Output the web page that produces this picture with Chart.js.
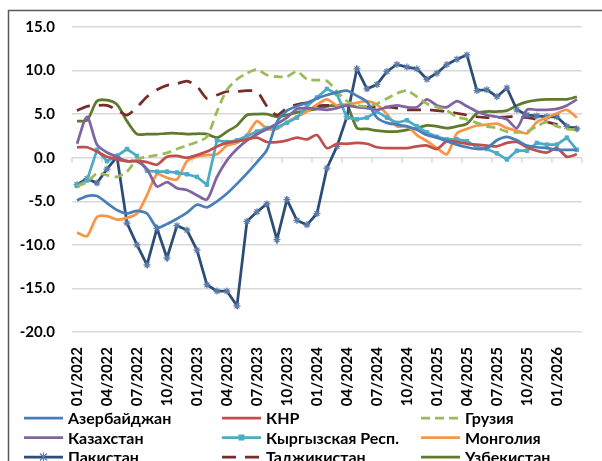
<!DOCTYPE html>
<html>
<head>
<meta charset="utf-8">
<script src="https://cdn.jsdelivr.net/npm/chart.js@4"></script>
<style>
  body { margin: 0; background: #fff; }
  canvas { display: block; }
</style>
</head>
<body>
<canvas id="chart" width="602" height="461"></canvas>
<script>
let months = ['01/2022', '02/2022', '03/2022', '04/2022', '05/2022', '06/2022', '07/2022', '08/2022', '09/2022', '10/2022', '11/2022', '12/2022',
    '01/2023', '02/2023', '03/2023', '04/2023', '05/2023', '06/2023', '07/2023', '08/2023', '09/2023', '10/2023', '11/2023', '12/2023',
    '01/2024', '02/2024', '03/2024', '04/2024', '05/2024', '06/2024', '07/2024', '08/2024', '09/2024', '10/2024', '11/2024', '12/2024',
    '01/2025', '02/2025', '03/2025', '04/2025', '05/2025', '06/2025', '07/2025', '08/2025', '09/2025', '10/2025', '11/2025', '12/2025',
    '01/2026', '02/2026', '03/2026']

let azerbaijan = [-4.9, -4.4, -4.4, -5.2, -6.0, -6.4, -6.1, -6.4, -8.0, -7.6, -7.0, -6.3, -5.4, -5.7, -5.0, -4.1, -3.0, -1.8, -0.5, 0.9,
    4.1, 5.4, 5.9, 6.3, 6.8, 7.2, 7.5, 7.7, 7.1, 6.4, 4.6, 4.0, 3.8, 3.6, 3.2, 2.6, 2.3, 1.9, 1.5, 1.2,
    1.0, 1.1, 2.0, 2.4, 2.0, 1.4, 1.2, 1.1, 0.9, 0.9, 0.9]
let china = [1.2, 1.2, 0.7, 0.1, -0.2, -0.4, -0.4, -0.5, -0.8, 0.1, 0.2, 0.0, 0.3, 0.7, 1.3, 1.7, 1.9, 2.1, 2.3, 1.8,
    1.8, 2.0, 2.3, 2.1, 2.6, 1.1, 1.6, 1.6, 1.7, 1.6, 1.2, 1.1, 1.1, 1.1, 1.3, 1.4, 1.0, 1.9, 1.8, 1.6,
    1.5, 1.4, 1.3, 1.7, 1.8, 1.2, 0.8, 0.6, 1.1, 0.1, 0.4]
let georgia = [-3.3, -2.8, -1.8, -2.0, -2.2, -1.6, -0.2, 0.1, 0.3, 0.55, 1.0, 1.4, 1.8, 2.4, 5.3, 7.8, 9.0, 9.7, 10.1, 9.5,
    9.3, 9.3, 9.9, 9.0, 8.9, 8.8, 7.6, 6.5, 6.0, 5.9, 6.2, 6.8, 7.4, 7.7, 7.0, 6.2, 5.8, 5.4, 4.7, 4.4,
    4.0, 3.6, 3.4, 3.0, 2.9, 3.0, 3.6, 4.1, 3.6, 3.3, 3.2]
let kazakhstan = [1.6, 4.7, 1.5, 0.6, 0.1, -0.4, -0.4, -1.3, -3.3, -2.8, -3.5, -3.7, -4.3, -4.8, -2.2, -0.3, 1.0, 2.0, 2.7, 3.3,
    3.9, 4.6, 5.6, 5.7, 5.6, 5.5, 5.7, 6.0, 5.8, 5.7, 5.5, 5.8, 6.0, 5.8, 5.8, 6.7, 6.0, 5.8, 6.5, 5.9,
    5.3, 4.9, 4.7, 4.4, 3.4, 5.5, 5.5, 5.5, 5.6, 6.0, 6.7]
let kyrgyzstan = [-3.2, -2.6, 0.9, -0.4, 0.2, 1.0, 0.2, -1.5, -1.6, -1.6, -1.7, -1.9, -2.2, -3.1, 2.0, 1.8, 2.0, 2.5, 3.0, 3.4,
    3.5, 4.0, 4.6, 5.9, 6.9, 7.9, 7.3, 4.6, 4.4, 4.6, 5.3, 4.6, 4.0, 4.3, 3.6, 2.9, 2.4, 2.1, 2.1, 1.9,
    1.2, 1.0, 0.5, -0.2, 0.8, 0.8, 1.7, 1.5, 1.5, 2.3, 0.9]
let mongolia = [-8.6, -9.0, -6.8, -6.7, -7.1, -6.9, -6.4, -4.3, -1.9, -2.3, -2.5, -0.4, 0.15, 0.3, 0.4, 1.4, 1.7, 2.6, 4.2, 3.3,
    3.3, 4.1, 4.7, 5.3, 6.1, 6.7, 6.0, 6.1, 6.3, 6.5, 6.1, 5.0, 3.6, 3.6, 2.6, 1.9, 1.1, 0.4, 2.8, 3.3,
    3.7, 3.8, 3.9, 3.4, 3.1, 2.8, 4.1, 4.6, 5.1, 5.5, 4.6]
let pakistan = [-3.1, -2.4, -2.9, -1.3, 0.1, -7.5, -10.0, -12.3, -8.1, -11.5, -7.8, -8.3, -10.6, -14.6, -15.3, -15.3, -17.0, -7.3, -6.2, -5.3,
    -9.4, -4.8, -7.2, -7.7, -6.4, -1.2, 1.3, 4.7, 10.2, 7.9, 8.4, 9.9, 10.7, 10.4, 10.2, 9.0, 9.7, 10.7, 11.3, 11.8,
    7.7, 7.8, 7.0, 8.0, 5.5, 4.9, 4.8, 4.7, 4.7, 3.6, 3.3]
let tajikistan = [5.4, 5.9, 6.0, 6.0, 5.5, 4.9, 5.8, 7.0, 7.8, 8.3, 8.5, 8.8, 8.2, 6.8, 7.2, 7.6, 7.6, 7.7, 7.6, 5.9,
    4.9, 5.7, 6.1, 6.3, 6.0, 6.0, 6.0, 6.0, 5.9, 5.8, 5.8, 5.8, 5.7, 5.5, 5.5, 5.5, 5.4, 5.3, 5.1, 4.9,
    4.7, 4.6, 4.6, 4.7, 4.7, 4.6, 4.4, 4.1, 3.8, 3.4, 3.5]
let uzbekistan = [4.2, 4.3, 6.5, 6.6, 6.1, 4.2, 2.7, 2.7, 2.7, 2.8, 2.8, 2.7, 2.75, 2.7, 2.3, 3.0, 3.7, 4.9, 5.0, 5.0,
    4.7, 4.9, 5.2, 5.4, 5.6, 5.9, 6.0, 6.0, 3.4, 3.3, 3.1, 3.0, 3.0, 3.2, 3.4, 3.7, 3.6, 3.4, 3.6, 3.9,
    5.1, 5.3, 5.3, 5.4, 6.0, 6.4, 6.6, 6.7, 6.7, 6.7, 7.0]

let yTicks = [15, 10, 5, 0, -5, -10, -15, -20]

const FONT = 'Lato, "Open Sans", sans-serif'

function series(label, data, color, extra) {
    return Object.assign({
        label: label,
        data: data,
        borderColor: color,
        backgroundColor: color,
        borderWidth: 2.75,
        pointRadius: 0,
        tension: 0.25,
        fill: false
    }, extra || {})
}

let datasets = [
    series('Азербайджан', azerbaijan, '#4a7ebb'),
    series('КНР', china, '#c0504d'),
    series('Грузия', georgia, '#9bbb59', {borderDash: [9, 5]}),
    series('Казахстан', kazakhstan, '#8064a2'),
    series('Кыргызская Респ.', kyrgyzstan, '#4bacc6', {pointStyle: 'rect', pointRadius: 2.5, pointBorderWidth: 1, tension: 0}),
    series('Монголия', mongolia, '#f79646'),
    series('Пакистан', pakistan, '#2c4d75', {pointStyle: 'star', pointRadius: 3.5, pointBorderWidth: 1.2, pointBorderColor: '#5b7aa8', tension: 0}),
    series('Таджикистан', tajikistan, '#772c2a', {borderDash: [14, 9]}),
    series('Узбекистан', uzbekistan, '#5f7a2d')
]

// frame, zero-line tick marks and the three-column legend
let extras = {
    id: 'extras',
    beforeDraw(chart) {
        let c = chart.ctx
        c.save()
        c.fillStyle = '#fff'
        c.fillRect(0, 0, chart.width, chart.height)
        c.strokeStyle = '#5a5a5a'
        c.lineWidth = 1.5
        c.strokeRect(8.5, 10.5, 700, 600)
        c.restore()
    },
    beforeDatasetsDraw(chart) {
        let c = chart.ctx
        let xs = chart.scales.x
        let y0 = chart.scales.y.getPixelForValue(0)
        let step = xs.getPixelForValue(1) - xs.getPixelForValue(0)
        c.save()
        c.strokeStyle = '#d9d9d9'
        c.lineWidth = 1.5
        c.beginPath()
        for (let i = 0; i <= months.length; i += 3) {
            let x = xs.getPixelForValue(0) - step / 2 + i * step
            c.moveTo(x, y0)
            c.lineTo(x, y0 + 5)
        }
        c.stroke()
        c.restore()
    },
    afterDraw(chart) {
        let c = chart.ctx
        let colX = [24, 222, 421]
        let rowY = [418, 437.5, 457]
        c.save()
        chart.data.datasets.forEach((ds, i) => {
            let x = colX[i % 3]
            let y = rowY[Math.floor(i / 3)]
            c.strokeStyle = ds.borderColor
            c.lineWidth = 2.75
            c.setLineDash(ds.borderDash || [])
            c.beginPath()
            c.moveTo(x, y)
            c.lineTo(x + 39, y)
            c.stroke()
            c.setLineDash([])
            if (ds.pointStyle === 'rect') {
                c.fillStyle = ds.borderColor
                c.fillRect(x + 16.5, y - 3, 6, 6)
            } else if (ds.pointStyle === 'star') {
                c.strokeStyle = ds.pointBorderColor
                c.lineWidth = 1.2
                c.beginPath()
                c.moveTo(x + 16, y - 3.5); c.lineTo(x + 23, y + 3.5)
                c.moveTo(x + 23, y - 3.5); c.lineTo(x + 16, y + 3.5)
                c.moveTo(x + 19.5, y - 4.5); c.lineTo(x + 19.5, y + 4.5)
                c.stroke()
            }
            c.fillStyle = '#000'
            c.font = 'bold 16px ' + FONT
            c.textBaseline = 'middle'
            c.textAlign = 'left'
            c.fillText(ds.label, x + 44, y + 1)
        })
        c.restore()
    }
}

let chart = new Chart(document.querySelector('#chart'), {
    type: 'line',
    data: {labels: months, datasets: datasets},
    options: {
        responsive: false,
        animation: false,
        devicePixelRatio: 1,
        layout: {padding: {top: 27, right: 11, left: 0, bottom: 0}},
        plugins: {legend: {display: false}, tooltip: {enabled: false}},
        scales: {
            x: {
                type: 'category',
                offset: true,
                grid: {display: false},
                border: {display: false},
                ticks: {
                    autoSkip: false,
                    minRotation: 90,
                    maxRotation: 90,
                    padding: 7,
                    color: '#000',
                    font: {family: FONT, size: 15, weight: 'bold'},
                    callback: (v, i) => i % 3 === 0 ? months[i] : ''
                },
                afterFit: s => { s.height = 129 }
            },
            y: {
                min: -20,
                max: 15,
                afterBuildTicks: s => { s.ticks = yTicks.map(v => ({value: v})) },
                grid: {color: '#d9d9d9', lineWidth: 1.5, drawTicks: false},
                border: {display: false},
                ticks: {
                    padding: 17,
                    color: '#000',
                    font: {family: FONT, size: 15, weight: 'bold'},
                    callback: v => v.toFixed(1)
                },
                afterFit: s => { s.width = 72 }
            }
        }
    },
    plugins: [extras]
})
</script>
</body>
</html>
